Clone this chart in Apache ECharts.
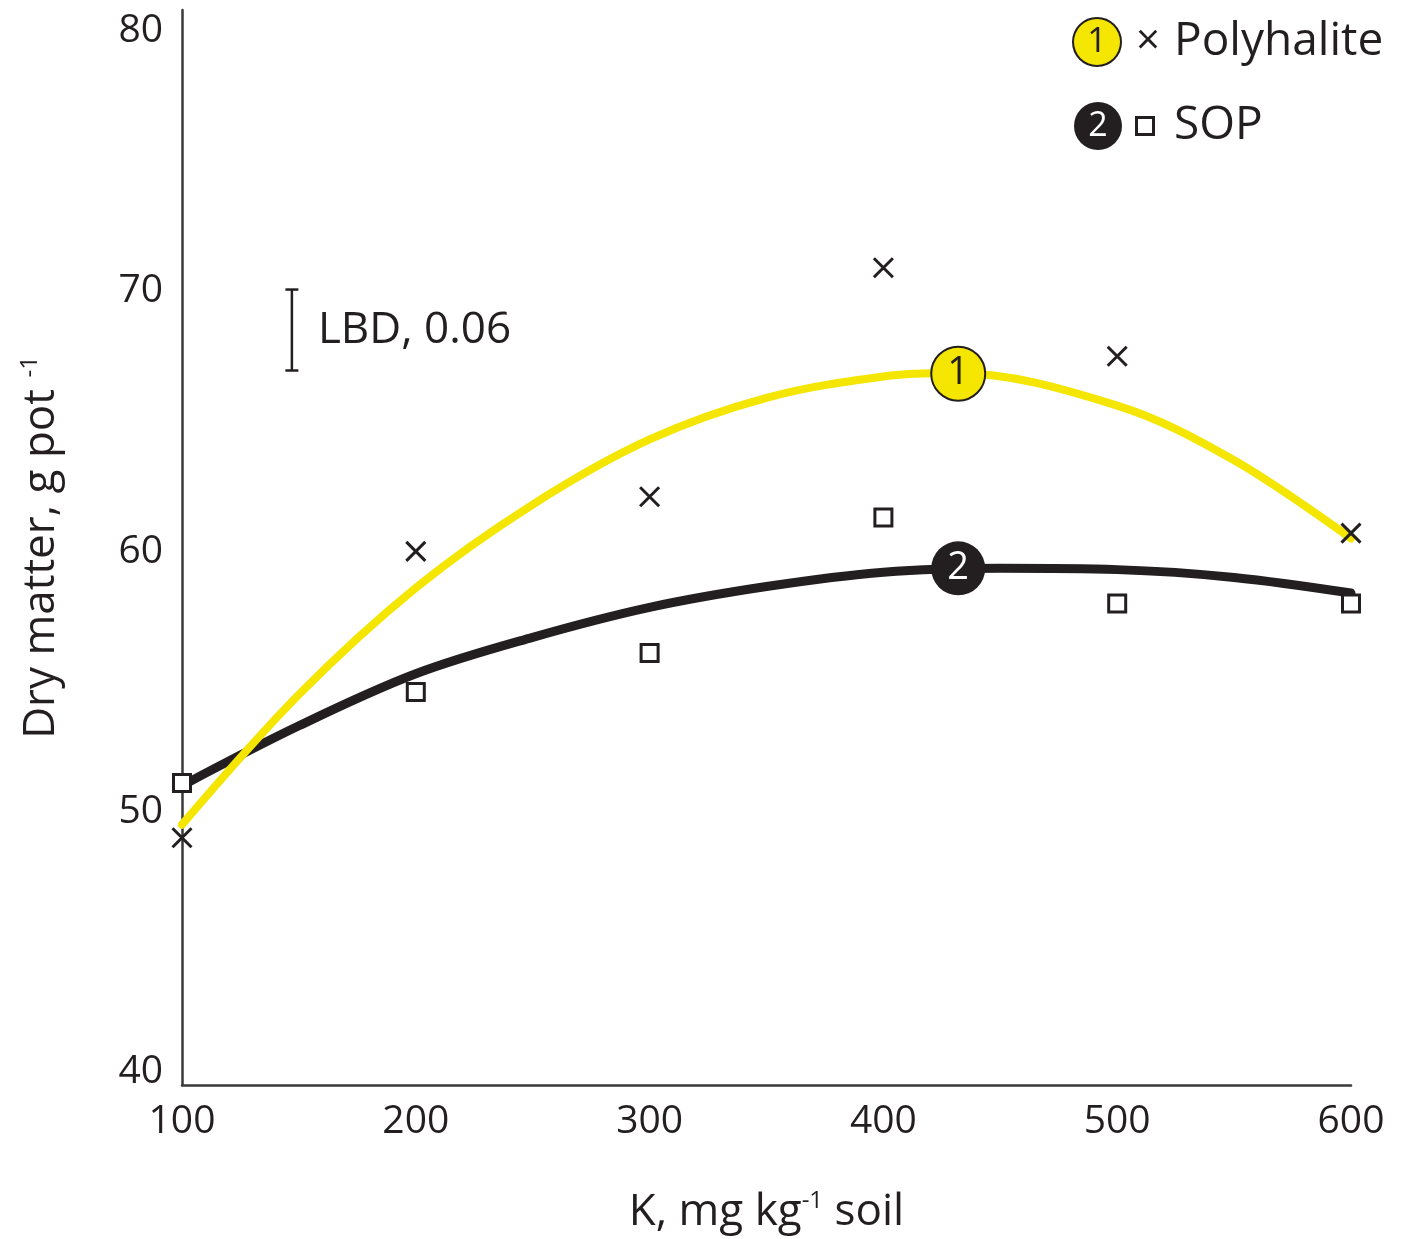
<!DOCTYPE html>
<html>
<head>
<meta charset="utf-8">
<script src="https://cdn.jsdelivr.net/npm/echarts@6/dist/echarts.min.js"></script>
<style>
html,body{margin:0;padding:0;background:#fff;}
#chart{width:1406px;height:1239px;}
</style>
</head>
<body>
<div id="chart"></div>
<script>
// ---- data ----
const xTicks = [100, 200, 300, 400, 500, 600];
const yTicks = [40, 50, 60, 70, 80];
const doses = [100, 200, 300, 400, 500, 600];
const polyhalite = [49.0, 60.0, 62.1, 70.9, 67.5, 60.7];
const sop = [51.1, 54.6, 56.1, 61.3, 58.0, 58.0];
const polyhaliteFitX = [100, 150, 200, 250, 300, 350, 400, 430, 500, 550, 600];
const polyhaliteFit = [49.5, 54.5, 58.6, 61.8, 64.3, 65.9, 66.72, 66.85, 65.6, 63.5, 60.5];
const sopFitX = [100, 150, 200, 250, 300, 350, 400, 450, 500, 550, 600];
const sopFit = [51.0, 53.3, 55.3, 56.7, 57.85, 58.65, 59.2, 59.35, 59.3, 59.0, 58.4];
const curveTagX = [432, 432];
const curveTagY = [66.83, 59.35];
const curveTags = ['1', '2'];
const lbdBar = [147, 66.95, 70.06];
const lbdText = 'LBD, 0.06';
const seriesNames = ['Polyhalite', 'SOP'];

const TXT = '#231f20';
const YEL = '#f4e600';
const FONT = 'Open Sans';

const chart = echarts.init(document.getElementById('chart'), null, {renderer: 'canvas'});

const zip = (xs, ys) => xs.map((x, i) => [x, ys[i]]);

const option = {
  animation: false,
  backgroundColor: '#fff',
  textStyle: {fontFamily: FONT, color: TXT},
  grid: {left: 182, right: 55, top: 10, bottom: 153, containLabel: false},
  legend: {
    data: seriesNames,
    orient: 'vertical',
    left: 1064,
    top: 12,
    itemWidth: 0,
    itemHeight: 0,
    itemGap: 35,
    selectedMode: false,
    icon: 'circle',
    formatter: function (name) {
      return name === 'Polyhalite'
        ? '{c1|1}{gap| }{m|×}{gap2| }{t|Polyhalite}'
        : '{c2|2}{gap| }{sq| }{gap3| }{t|SOP}';
    },
    textStyle: {
      fontFamily: FONT,
      color: TXT,
      rich: {
        c1: {width: 46, height: 46, lineHeight: 46, borderRadius: 23, backgroundColor: YEL,
             borderColor: TXT, borderWidth: 2, align: 'center', fontSize: 34, color: TXT, fontFamily: FONT},
        c2: {width: 48, height: 48, lineHeight: 48, borderRadius: 24, backgroundColor: TXT,
             align: 'center', fontSize: 34, color: '#fff', fontFamily: FONT},
        gap: {width: 16},
        gap2: {width: 14},
        gap3: {width: 22},
        m: {fontSize: 42, color: TXT, fontFamily: FONT},
        sq: {width: 14, height: 14, borderColor: TXT, borderWidth: 3, backgroundColor: '#fff'},
        t: {fontSize: 46, color: TXT, fontFamily: FONT}
      }
    }
  },
  xAxis: {
    type: 'value',
    min: 100,
    max: 600,
    interval: 100,
    name: 'K, mg kg{sup|-1} soil',
    nameLocation: 'middle',
    nameGap: 104,
    nameTextStyle: {
      fontSize: 44, color: TXT, fontFamily: FONT,
      rich: {sup: {fontSize: 24, color: TXT, fontFamily: FONT, padding: [0, 0, 22, 0]}}
    },
    axisLine: {show: true, lineStyle: {color: '#3a3a3a', width: 2.5}},
    axisTick: {show: false},
    splitLine: {show: false},
    axisLabel: {fontSize: 39, color: TXT, fontFamily: FONT, margin: 17,
                customValues: xTicks, formatter: v => String(v)}
  },
  yAxis: {
    type: 'value',
    min: 39.5,
    max: 80.8,
    name: 'Dry matter, g pot {sup|-1}',
    nameLocation: 'middle',
    nameRotate: 90,
    nameGap: 118,
    nameTextStyle: {
      fontSize: 44, color: TXT, fontFamily: FONT,
      rich: {sup: {fontSize: 24, color: TXT, fontFamily: FONT, padding: [0, 0, 22, 0]}}
    },
    axisLine: {show: true, lineStyle: {color: '#3a3a3a', width: 2.5}},
    axisTick: {show: false},
    splitLine: {show: false},
    axisLabel: {fontSize: 39, color: TXT, fontFamily: FONT, margin: 19,
                customValues: yTicks, formatter: v => String(v)}
  },
  series: [
    {
      name: 'Polyhalite',
      type: 'line',
      data: zip(polyhaliteFitX, polyhaliteFit),
      smooth: 0.35,
      showSymbol: false,
      clip: false,
      lineStyle: {color: YEL, width: 8, cap: 'round'},
      itemStyle: {color: YEL},
      z: 2
    },
    {
      name: 'SOP',
      type: 'line',
      data: zip(sopFitX, sopFit),
      smooth: 0.35,
      showSymbol: false,
      clip: false,
      lineStyle: {color: TXT, width: 9, cap: 'round'},
      itemStyle: {color: TXT},
      z: 1
    },
    {
      name: 'Polyhalite',
      type: 'scatter',
      data: zip(doses, polyhalite),
      symbol: 'path://M0,0L10,10M10,0L0,10',
      symbolSize: 19,
      clip: false,
      itemStyle: {color: 'none', borderColor: TXT, borderWidth: 3, opacity: 1},
      z: 5
    },
    {
      name: 'SOP',
      type: 'scatter',
      data: zip(doses, sop),
      symbol: 'rect',
      symbolSize: 17,
      clip: false,
      itemStyle: {color: '#fff', borderColor: TXT, borderWidth: 3, opacity: 1},
      z: 5
    },
    {
      name: 'Polyhalite',
      type: 'scatter',
      data: [[curveTagX[0], curveTagY[0]]],
      symbol: 'circle',
      symbolSize: 54,
      clip: false,
      itemStyle: {color: YEL, borderColor: TXT, borderWidth: 2, opacity: 1},
      label: {show: true, position: 'inside', formatter: curveTags[0], fontSize: 38, color: TXT, fontFamily: FONT},
      z: 6
    },
    {
      name: 'SOP',
      type: 'scatter',
      data: [[curveTagX[1], curveTagY[1]]],
      symbol: 'circle',
      symbolSize: 54,
      clip: false,
      itemStyle: {color: TXT, opacity: 1},
      label: {show: true, position: 'inside', formatter: curveTags[1], fontSize: 38, color: '#fff', fontFamily: FONT},
      z: 6
    },
    {
      name: 'LBD',
      type: 'custom',
      data: [lbdBar],
      clip: false,
      renderItem: function (params, api) {
        const lo = api.coord([api.value(0), api.value(1)]);
        const hi = api.coord([api.value(0), api.value(2)]);
        const x = lo[0];
        const cap = 6.5;
        const st = {stroke: TXT, lineWidth: 2.5};
        return {
          type: 'group',
          children: [
            {type: 'line', shape: {x1: x, y1: hi[1], x2: x, y2: lo[1]}, style: st},
            {type: 'line', shape: {x1: x - cap, y1: hi[1], x2: x + cap, y2: hi[1]}, style: st},
            {type: 'line', shape: {x1: x - cap, y1: lo[1], x2: x + cap, y2: lo[1]}, style: st},
            {type: 'text', style: {text: lbdText, x: x + 26, y: (lo[1] + hi[1]) / 2,
              verticalAlign: 'middle', align: 'left', fontSize: 44, fill: TXT, fontFamily: FONT}}
          ]
        };
      },
      z: 4
    }
  ]
};
chart.setOption(option);
</script>
</body>
</html>
